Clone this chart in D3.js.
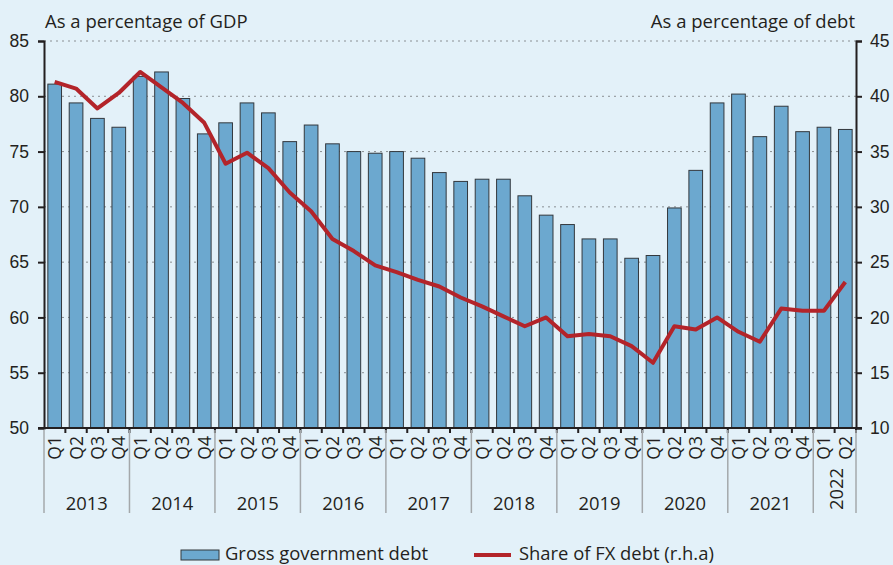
<!DOCTYPE html>
<html lang="en">
<head>
<meta charset="utf-8">
<title>Gross government debt and share of FX debt</title>
<script src="https://d3js.org/d3.v7.min.js"></script>
<style>
  body { margin: 0; background: #e3f1f9; }
  svg { display: block; font-family: "Open Sans", sans-serif; }
</style>
</head>
<body>
<svg width="893" height="565"></svg>
<script>
const years = ["2013", "2014", "2015", "2016", "2017", "2018", "2019", "2020", "2021", "2022"];
const quarters = ["Q1", "Q2", "Q3", "Q4"];
const periods = years.flatMap(y => quarters.map(q => y + " " + q)).slice(0, 38);

const grossDebt = [81.1, 79.4, 78.0, 77.2, 81.8, 82.2, 79.8, 76.6,
                   77.6, 79.4, 78.5, 75.9, 77.4, 75.7, 75.0, 74.85,
                   75.0, 74.4, 73.1, 72.3, 72.5, 72.5, 71.0, 69.25,
                   68.4, 67.1, 67.1, 65.35, 65.6, 69.9, 73.3, 79.4,
                   80.2, 76.35, 79.1, 76.8, 77.2, 77.0];
const fxShare = [41.3, 40.7, 38.9, 40.3, 42.2, 40.8, 39.4, 37.6,
                 33.9, 34.9, 33.5, 31.3, 29.6, 27.1, 26.0, 24.7,
                 24.1, 23.4, 22.8, 21.8, 21.0, 20.1, 19.2, 20.0,
                 18.3, 18.5, 18.3, 17.4, 15.9, 19.2, 18.9, 20.0,
                 18.7, 17.8, 20.8, 20.6, 20.6, 23.2];
const leftTicks = [50, 55, 60, 65, 70, 75, 80, 85];
const rightTicks = [10, 15, 20, 25, 30, 35, 40, 45];

const svg = d3.select("svg"),
      margin = { top: 41, right: 37, bottom: 137, left: 44 },
      width = +svg.attr("width") - margin.left - margin.right,
      height = +svg.attr("height") - margin.top - margin.bottom,
      g = svg.append("g").attr("transform", "translate(" + margin.left + "," + margin.top + ")");

const x = d3.scaleBand().domain(periods).range([0, width]).paddingInner(0.36).paddingOuter(0.18);
const xStep = d3.scaleBand().domain(periods).range([0, width]);
const yL = d3.scaleLinear().domain([50, 85]).range([height, 0]);
const yR = d3.scaleLinear().domain([10, 45]).range([height, 0]);

// gridlines
g.append("g")
  .selectAll("line")
  .data(leftTicks.slice(1))
  .join("line")
  .attr("x1", 0).attr("x2", width)
  .attr("y1", d => yL(d)).attr("y2", d => yL(d))
  .attr("stroke", "#8a8f93")
  .attr("stroke-width", 1)
  .attr("stroke-dasharray", "2,4");

// bars
g.append("g")
  .selectAll("rect")
  .data(grossDebt)
  .join("rect")
  .attr("x", (d, i) => x(periods[i]))
  .attr("width", x.bandwidth())
  .attr("y", d => yL(d))
  .attr("height", d => height - yL(d))
  .attr("fill", "#6ca8cf")
  .attr("stroke", "#33383d")
  .attr("stroke-width", 1);

// line
const line = d3.line()
  .x((d, i) => xStep(periods[i]) + xStep.bandwidth() / 2)
  .y(d => yR(d));

g.append("path")
  .datum(fxShare)
  .attr("fill", "none")
  .attr("stroke", "#b3242a")
  .attr("stroke-width", 4)
  .attr("stroke-linejoin", "round")
  .attr("d", line);

// left axis
g.append("g")
  .call(d3.axisLeft(yL).tickValues(leftTicks).tickSize(6).tickPadding(9))
  .call(a => a.select(".domain").attr("stroke", "#231f20").attr("stroke-width", 2))
  .call(a => a.selectAll(".tick line").attr("stroke", "#231f20").attr("stroke-width", 2))
  .call(a => a.selectAll("text").attr("font-size", 17.5).attr("fill", "#231f20"));

// right axis
g.append("g")
  .attr("transform", "translate(" + width + ",0)")
  .call(d3.axisRight(yR).tickValues(rightTicks).tickSize(6).tickPadding(8))
  .call(a => a.select(".domain").attr("stroke", "#231f20").attr("stroke-width", 2))
  .call(a => a.selectAll(".tick line").attr("stroke", "#231f20").attr("stroke-width", 2))
  .call(a => a.selectAll("text").attr("font-size", 17.5).attr("fill", "#231f20"));

// x axis baseline and quarter ticks
const xa = g.append("g").attr("transform", "translate(0," + height + ")");
xa.append("line").attr("x1", -6).attr("x2", width + 6)
  .attr("stroke", "#231f20").attr("stroke-width", 2);
xa.selectAll(".qtick")
  .data(periods)
  .join("line")
  .attr("class", "qtick")
  .attr("x1", d => xStep(d) + xStep.bandwidth()).attr("x2", d => xStep(d) + xStep.bandwidth())
  .attr("y1", 0).attr("y2", 5)
  .attr("stroke", "#231f20").attr("stroke-width", 2);

// quarter labels
xa.selectAll(".qlab")
  .data(periods)
  .join("text")
  .attr("class", "qlab")
  .attr("transform", d => "translate(" + (xStep(d) + xStep.bandwidth() / 2 + 6.5) + ",8) rotate(-90)")
  .attr("text-anchor", "end")
  .attr("font-size", 17.5)
  .attr("fill", "#231f20")
  .text(d => d.split(" ")[1]);

// year separators and labels
const yearStart = years.map(y => periods.indexOf(y + " Q1"));
const sepIdx = yearStart.concat([periods.length]);
xa.selectAll(".ysep")
  .data(sepIdx)
  .join("line")
  .attr("class", "ysep")
  .attr("x1", i => i * xStep.step()).attr("x2", i => i * xStep.step())
  .attr("y1", 2).attr("y2", 85)
  .attr("stroke", "#a4a8ab").attr("stroke-width", 1.5);

xa.selectAll(".ylab")
  .data(years)
  .join("text")
  .attr("class", "ylab")
  .attr("font-size", 18.4)
  .attr("fill", "#231f20")
  .attr("text-anchor", "middle")
  .attr("transform", (d, i) => {
    const s = yearStart[i], e = Math.min(s + 4, periods.length);
    const cx = (s + e) / 2 * xStep.step();
    return d === "2022" ? "translate(" + (cx + 8) + ",61) rotate(-90)" : "translate(" + cx + ",82)";
  })
  .text(d => d);

// axis titles
svg.append("text").attr("x", 45).attr("y", 28).attr("font-size", 18.5).attr("fill", "#231f20")
  .text("As a percentage of GDP");
svg.append("text").attr("x", 855).attr("y", 28).attr("font-size", 18.5).attr("fill", "#231f20")
  .attr("text-anchor", "end").text("As a percentage of debt");

// legend
const lg = svg.append("g");
lg.append("rect").attr("x", 181).attr("y", 550).attr("width", 38).attr("height", 10)
  .attr("fill", "#6ca8cf").attr("stroke", "#33383d").attr("stroke-width", 1);
lg.append("text").attr("x", 225).attr("y", 560).attr("font-size", 18.4).attr("fill", "#231f20")
  .text("Gross government debt");
lg.append("line").attr("x1", 474).attr("x2", 511).attr("y1", 555).attr("y2", 555)
  .attr("stroke", "#b3242a").attr("stroke-width", 4);
lg.append("text").attr("x", 519).attr("y", 560).attr("font-size", 18.4).attr("fill", "#231f20")
  .text("Share of FX debt (r.h.a)");
</script>
</body>
</html>
